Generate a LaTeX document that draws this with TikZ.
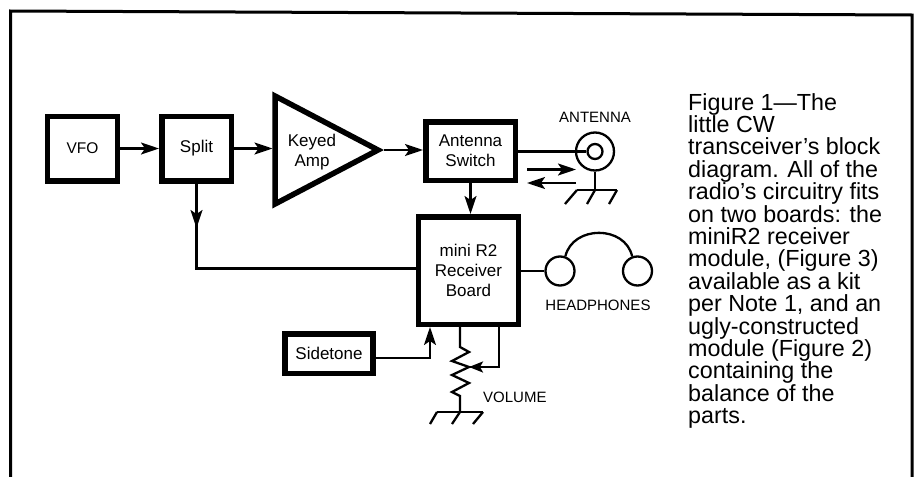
\documentclass[tikz,border=0pt]{standalone}
\usepackage{fontspec}
\setmainfont{Liberation Sans}
\usetikzlibrary{arrows.meta,calc}
\tikzset{
  thickbox/.style={draw=black,line width=5.5pt,fill=white,align=center,font=\fontsize{17}{20}\selectfont,inner sep=0pt},
  wire/.style={draw=black,line width=2.3pt},
  arrowwire/.style={wire,-{Stealth[length=18pt,width=12pt,inset=4pt]}},
  ring/.style={circle,draw=black,line width=2.3pt,inner sep=0pt},
  lbl/.style={font=\fontsize{15}{17}\selectfont,inner sep=0pt}
}
\begin{document}
\begin{tikzpicture}[x=1pt,y=-1pt]
\useasboundingbox (0,0) rectangle (914,477);
\draw[line width=3pt] (10.5,477) -- (10.5,11) -- (912,15) -- (912,477);
\node[thickbox,font=\fontsize{15.5}{20}\selectfont,minimum width=70pt,minimum height=64.5pt] (vfo) at (82.5,148.5) {VFO};
\node[thickbox,minimum width=69.5pt,minimum height=64.5pt] (split) at (196.5,148.5) {Split};
\draw[line width=5.5pt,fill=white,line join=miter] (275,96) -- (275,204) -- (378,150) -- cycle;
\coordinate (ampin) at (272.5,150);
\coordinate (ampout) at (384,150);
\node[font=\fontsize{17}{20.5}\selectfont,align=center,inner sep=0pt] (amp) at (312,152) {Keyed\\Amp};
\node[thickbox,minimum width=89.5pt,minimum height=58.5pt] (sw) at (470.5,151) {Antenna\\Switch};
\node[thickbox,minimum width=100pt,minimum height=107.5pt] (rx) at (468.5,270.5) {mini R2\\Receiver\\Board};
\node[thickbox,minimum width=88pt,minimum height=39.5pt] (side) at (329,353.5) {Sidetone};
\draw[arrowwire] (vfo.east) -- (split.west);
\draw[arrowwire] (split.east) -- (split.east -| ampin);
\draw[arrowwire] (ampout) -- (ampout -| sw.west);
\draw[arrowwire] (sw.south) -- (rx.north -| sw.south);
% split to receiver
\draw[wire] (split.south) -- (split.south |- 0,268.5) -- (rx.west |- 0,268.5);
\coordinate (splitarrow) at (196.5,228);
\draw[arrowwire] (split.south) -- (splitarrow);
% antenna
\node[ring,minimum size=38pt] (ant) at (595,151.5) {};
\node[ring,fill=white,minimum size=15pt] (core) at (595,151.5) {};
\draw[wire] (core.west -| sw.east) -- (core.west);
\node[lbl] (antl) at (595,117) {ANTENNA};
\coordinate (txa) at (527,169.5);
\coordinate (txb) at (576,169.5);
\coordinate (rxa) at (576,183);
\coordinate (rxb) at (527,183);
\draw[arrowwire] (txa) -- (txb);
\draw[arrowwire] (rxa) -- (rxb);
\coordinate (gnda) at (595,190);
\coordinate (gndl) at (577,190);
\coordinate (gndr) at (617,190);
\draw[wire] (ant.south) -- (gnda);
\draw[wire] (gndl) -- (gndr);
\draw[wire] (gndl) -- (565,204);
\draw[wire] (gnda) -- (587,204);
\draw[wire] (gndr) -- (609,204);
% headphones
\node[ring,minimum size=29pt] (hl) at (560,271) {};
\node[ring,minimum size=29pt] (hr) at (637.5,271) {};
\draw[wire] (rx.east |- hl.west) -- (hl.west);
\draw[wire] (hl.70) .. controls (573,225) and (625,225) .. (hr.110);
\node[lbl] (hp) at (598,305) {HEADPHONES};
% sidetone to receiver
\coordinate (sidetip) at (rx.south -| 430,0);
\draw[arrowwire] (side.east |- 0,358) -| (sidetip);
% volume
\coordinate (potin) at (rx.south -| 460,0);
\coordinate (potout) at (460,412);
\coordinate (wiper) at (469,367);
\coordinate (fb) at (rx.south -| 499,0);
\draw[wire,line join=miter] (potin) -- (460,347) -- (469,352) -- (452,361) -- (wiper) -- (452,375) -- (469,383) -- (452,392) -- (460,396) -- (potout);
\draw[wire] (fb) |- (wiper);
\draw[wire,-{Stealth[length=14pt,width=11pt,inset=3pt]}] (499,367) -- (wiper);
\node[lbl,anchor=west] (vol) at (483,397) {VOLUME};
\coordinate (g2l) at (437,412);
\coordinate (g2r) at (483,412);
\draw[wire] (g2l) -- (g2r);
\draw[wire] (g2l) -- (430,424);
\draw[wire] (potout) -- (452,424);
\draw[wire] (g2r) -- (473,424);
\node[anchor=north west,align=left,inner sep=0pt,font=\fontsize{23.3}{22.4}\selectfont] (cap) at (688,93) {Figure 1—The\\little CW\\transceiver’s block\\diagram. All of the\\radio’s circuitry fits\\on two boards: the\\miniR2 receiver\\module, (Figure 3)\\available as a kit\\per Note 1, and an\\ugly-constructed\\module (Figure 2)\\containing the\\balance of the\\parts.};
\end{tikzpicture}
\end{document}
